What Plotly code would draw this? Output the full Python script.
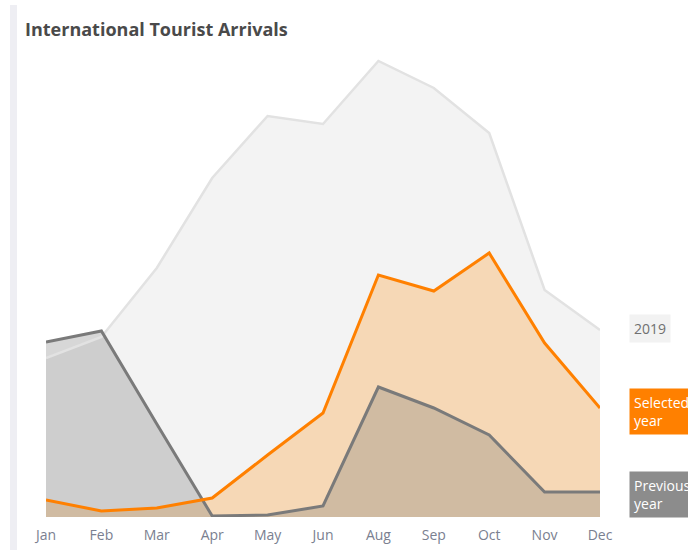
import plotly.graph_objects as go

months = ["Jan", "Feb", "Mar", "Apr", "May", "Jun", "Aug", "Sep", "Oct", "Nov", "Dec"]
arrivals_2019 = [1590, 1800, 2490, 3390, 4010, 3930, 4560, 4290, 3840, 2270, 1870]
arrivals_selected = [170, 60, 90, 190, 620, 1040, 2420, 2260, 2640, 1740, 1090]
arrivals_previous = [1750, 1860, 930, 10, 20, 110, 1300, 1090, 820, 250, 250]

W, H = 688, 550
ML, MR, MT, MB = 46, 88, 47, 33
YMAX = 4700

fig = go.Figure()

# fills
fig.add_trace(go.Scatter(x=months, y=arrivals_2019, fill="tozeroy", mode="none",
                         fillcolor="#f3f3f3", hoverinfo="skip", showlegend=False))
fig.add_trace(go.Scatter(x=months, y=arrivals_selected, fill="tozeroy", mode="none",
                         fillcolor="#f6d8b6", hoverinfo="skip", showlegend=False))
fig.add_trace(go.Scatter(x=months, y=arrivals_previous, fill="tozeroy", mode="none",
                         fillcolor="rgba(110,110,110,0.28)", hoverinfo="skip", showlegend=False))
# lines
fig.add_trace(go.Scatter(x=months, y=arrivals_2019, mode="lines", name="2019",
                         line=dict(color="#e2e2e2", width=2.5), showlegend=False))
fig.add_trace(go.Scatter(x=months, y=arrivals_previous, mode="lines", name="Previous year",
                         line=dict(color="#7a7a7a", width=3), showlegend=False))
fig.add_trace(go.Scatter(x=months, y=arrivals_selected, mode="lines", name="Selected year",
                         line=dict(color="#ff8000", width=3), showlegend=False))

def px_to_paper_x(px):
    return (px - ML) / (W - ML - MR)

def px_to_paper_y(py):
    return (H - MB - py) / (H - MT - MB)

label_x = px_to_paper_x(629)
fig.add_annotation(x=label_x, xref="paper", y=arrivals_2019[-1] + 20, yref="y",
                   text="2019", showarrow=False, xanchor="left", yanchor="middle",
                   font=dict(family="Open Sans", size=14, color="#707070"),
                   bgcolor="#f2f2f2", borderpad=4, align="left")
fig.add_annotation(x=label_x, xref="paper", y=arrivals_selected[-1] - 30, yref="y",
                   text="Selected<br>year", showarrow=False, xanchor="left", yanchor="middle",
                   font=dict(family="Open Sans", size=14, color="#ffffff"),
                   bgcolor="#ff8000", borderpad=4, align="left")
fig.add_annotation(x=label_x, xref="paper", y=arrivals_previous[-1] - 20, yref="y",
                   text="Previous<br>year", showarrow=False, xanchor="left", yanchor="middle",
                   font=dict(family="Open Sans", size=14, color="#ffffff"),
                   bgcolor="#8c8c8c", borderpad=4, align="left")

# left accent strip
fig.add_shape(type="rect", xref="paper", yref="paper",
              x0=px_to_paper_x(10), x1=px_to_paper_x(17),
              y0=px_to_paper_y(550), y1=px_to_paper_y(5),
              fillcolor="#eeeef3", line=dict(width=0), layer="below")

fig.update_layout(
    width=W, height=H,
    margin=dict(l=ML, r=MR, t=MT, b=MB, autoexpand=False),
    paper_bgcolor="white", plot_bgcolor="white",
    title=dict(text="International Tourist Arrivals", x=25 / W, xref="container",
               xanchor="left", y=1 - 30 / H, yanchor="middle",
               font=dict(family="Open Sans", size=18, color="#4a4a4a", weight=700)),
    xaxis=dict(type="category", range=[0, len(months) - 1], showgrid=False,
               zeroline=False, showline=False, ticks="", ticklabelstandoff=8,
               automargin=False,
               tickfont=dict(family="Open Sans", size=14, color="#7a8090")),
    yaxis=dict(range=[0, YMAX], visible=False, showgrid=False, zeroline=False,
               automargin=False),
    showlegend=False,
)

fig.write_html("out.html")
